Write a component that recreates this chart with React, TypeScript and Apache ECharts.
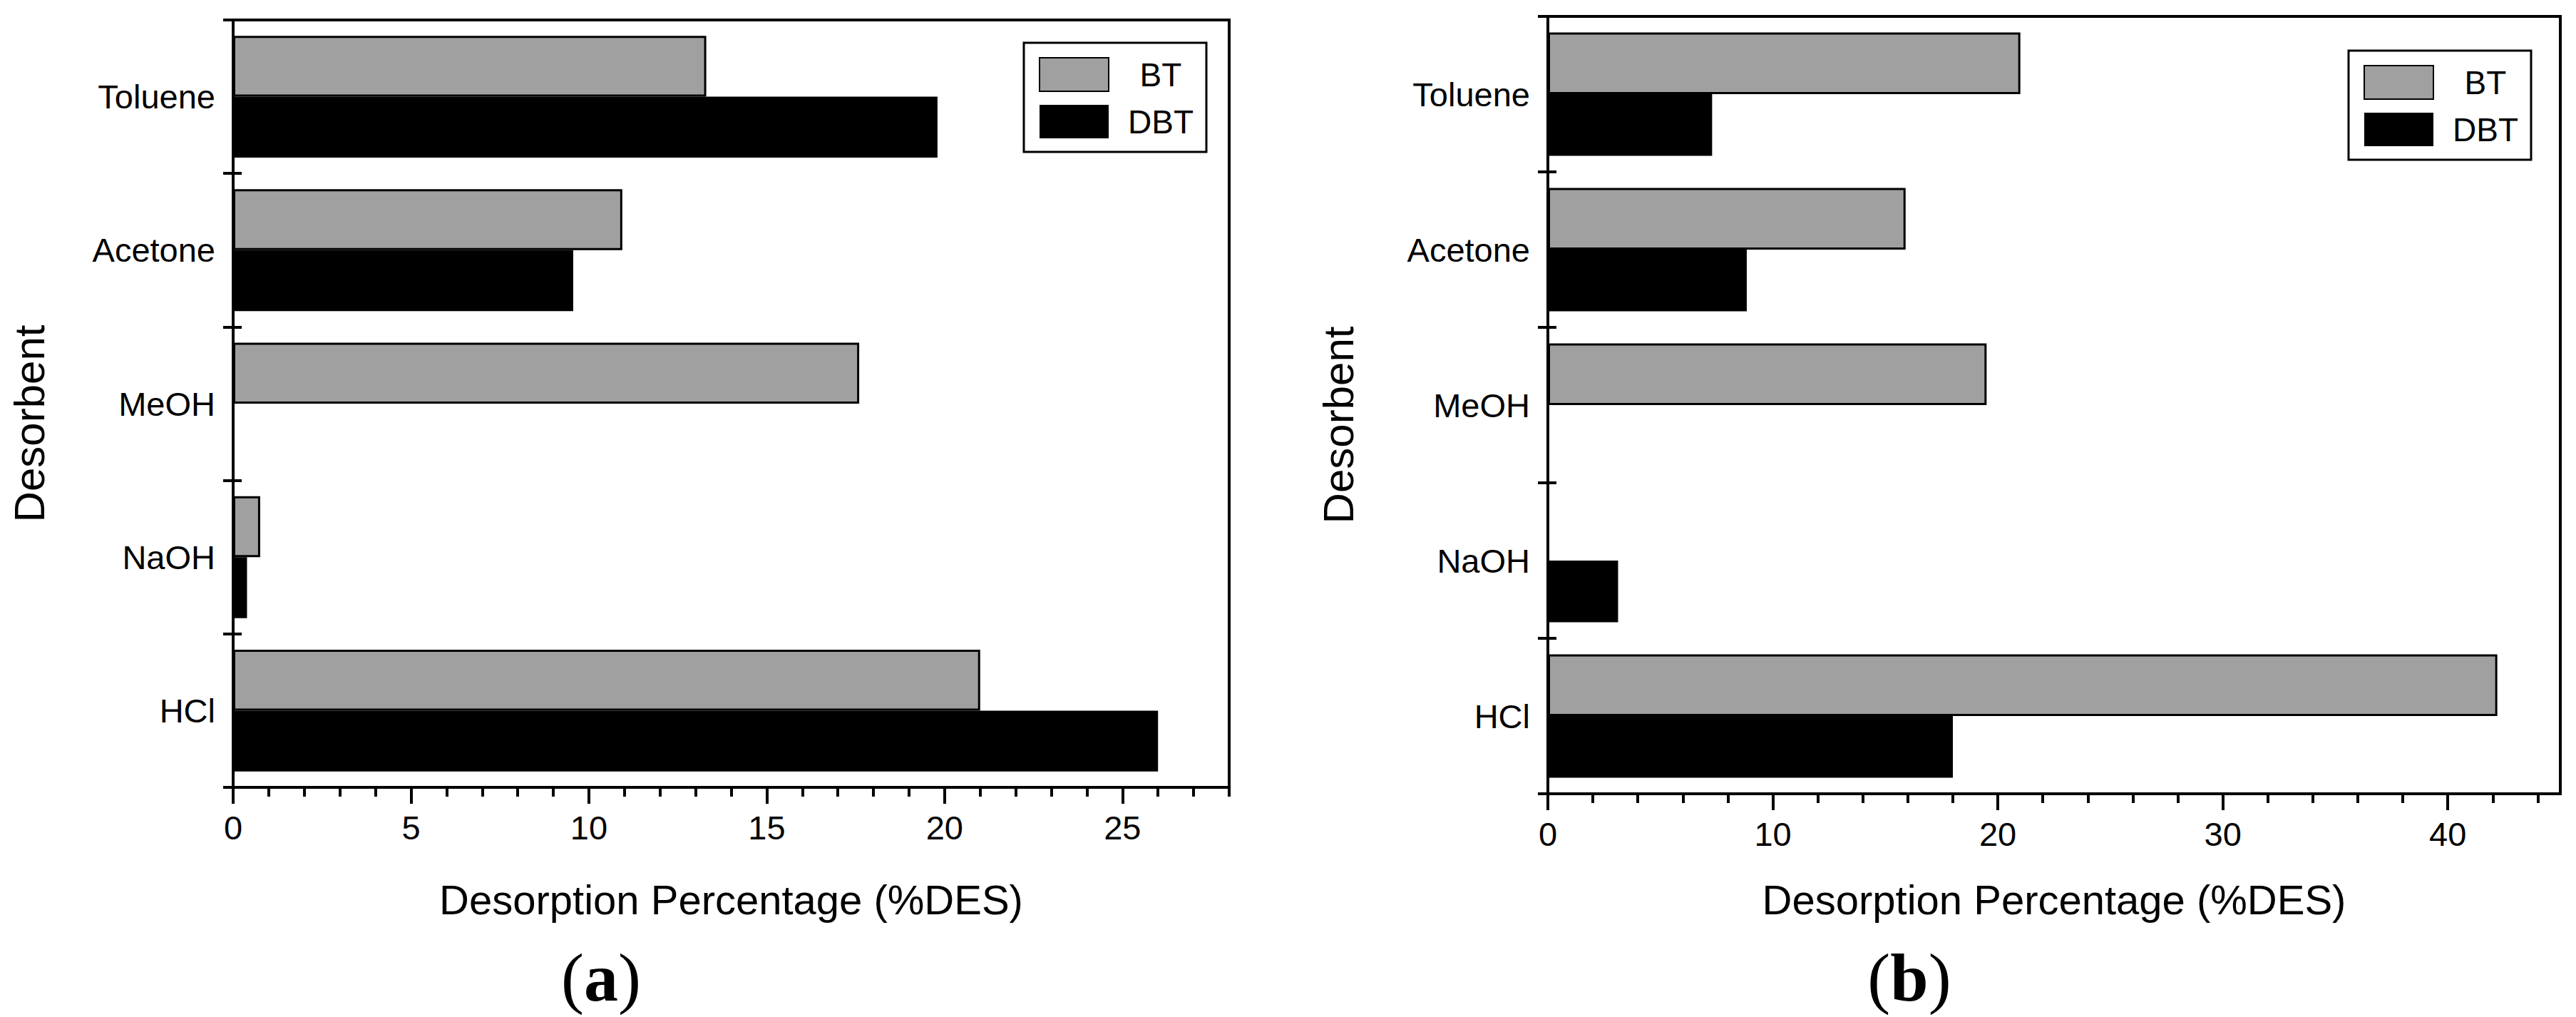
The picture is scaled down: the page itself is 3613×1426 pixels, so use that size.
import React, { useEffect, useRef } from "react";
import * as echarts from "echarts";

const categories = ["HCl", "NaOH", "MeOH", "Acetone", "Toluene"];
const seriesNames = ["BT", "DBT"];
const aBT = [21.0, 0.76, 17.6, 10.94, 13.3];
const aDBT = [26.0, 0.39, 0, 9.56, 19.8];
const bBT = [42.2, 0, 19.5, 15.9, 21.0];
const bDBT = [18.0, 3.12, 0, 8.84, 7.3];
const aMajorTicks = [0, 5, 10, 15, 20, 25];
const aMinorTicks = [1, 2, 3, 4, 6, 7, 8, 9, 11, 12, 13, 14, 16, 17, 18, 19, 21, 22, 23, 24, 26, 27, 28];
const bMajorTicks = [0, 10, 20, 30, 40];
const bMinorTicks = [2, 4, 6, 8, 12, 14, 16, 18, 22, 24, 26, 28, 32, 34, 36, 38, 42, 44];
const aMax = 28;
const bMax = 45;
const xTitle = "Desorption Percentage (%DES)";
const yTitle = "Desorbent";
const captions = ["a", "b"];

const SANS = "'Liberation Sans', Arial, sans-serif";
const SERIF = "'Liberation Serif', 'Times New Roman', serif";
const LW = 4;

function buildOption() {
  const grids = [
    { left: 327, top: 28, width: 1397, height: 1076 },
    { left: 2171, top: 23, width: 1420, height: 1090 },
  ];
  const panels = [
    { bt: aBT, dbt: aDBT, major: aMajorTicks, minor: aMinorTicks, max: aMax, nameGap: 128, yNameGap: 256, legend: { left: 1436, top: 60 } },
    { bt: bBT, dbt: bDBT, major: bMajorTicks, minor: bMinorTicks, max: bMax, nameGap: 119, yNameGap: 264, legend: { left: 3294, top: 71 } },
  ];
  const xAxis: any[] = [];
  const yAxis: any[] = [];
  const series: any[] = [];
  const legend: any[] = [];
  panels.forEach((p, i) => {
    xAxis.push({
      type: "value",
      gridIndex: i,
      position: "bottom",
      min: 0,
      max: p.max,
      splitLine: { show: false },
      axisLine: { show: true, lineStyle: { color: "#000", width: LW } },
      axisTick: { show: true, length: 23, lineStyle: { color: "#000", width: LW }, customValues: p.major },
      axisLabel: { show: true, customValues: p.major, color: "#000", fontSize: 47, fontFamily: SANS, margin: 33 },
      name: xTitle,
      nameLocation: "middle",
      nameGap: p.nameGap,
      nameTextStyle: { color: "#000", fontSize: 58, fontFamily: SANS },
    });
    xAxis.push({
      type: "value",
      gridIndex: i,
      position: "bottom",
      offset: 0,
      min: 0,
      max: p.max,
      splitLine: { show: false },
      axisLine: { show: false },
      axisTick: { show: true, length: 13, lineStyle: { color: "#000", width: LW }, customValues: p.minor },
      axisLabel: { show: false, customValues: p.minor },
    });
    yAxis.push({
      type: "category",
      gridIndex: i,
      position: "left",
      data: categories,
      axisLine: { show: true, lineStyle: { color: "#000", width: LW } },
      axisTick: { show: true, length: 14, lineStyle: { color: "#000", width: LW } },
      axisLabel: { color: "#000", fontSize: 47, fontFamily: SANS, margin: 25 },
      splitLine: { show: false },
      name: yTitle,
      nameLocation: "middle",
      nameRotate: 90,
      nameGap: p.yNameGap,
      nameTextStyle: { color: "#000", fontSize: 60, fontFamily: SANS, padding: [0, 56, 0, 0] },
    });
    yAxis.push({
      type: "category",
      gridIndex: i,
      position: "left",
      offset: 0,
      data: categories,
      axisLine: { show: false },
      axisTick: { show: true, inside: true, length: 12, lineStyle: { color: "#000", width: LW } },
      axisLabel: { show: false },
      splitLine: { show: false },
    });
    series.push({
      type: "bar",
      name: seriesNames[0],
      xAxisIndex: i * 2,
      yAxisIndex: i * 2,
      data: p.bt,
      barWidth: "39.7%",
      barGap: "0%",
      itemStyle: { color: "#a0a0a0", borderColor: "#000", borderWidth: 3 },
    });
    series.push({
      type: "bar",
      name: seriesNames[1],
      xAxisIndex: i * 2,
      yAxisIndex: i * 2,
      data: p.dbt,
      barWidth: "39.7%",
      barGap: "0%",
      itemStyle: { color: "#000", borderWidth: 0 },
    });
    legend.push({
      data: seriesNames,
      orient: "vertical",
      left: p.legend.left,
      top: p.legend.top,
      icon: "rect",
      itemWidth: 97,
      itemHeight: 47,
      itemGap: 18,
      padding: [20, 18, 19, 21],
      backgroundColor: "#fff",
      borderColor: "#000",
      borderWidth: 3,
      selectedMode: false,
      formatter: "{c|{name}}",
      textStyle: {
        color: "#000",
        fontSize: 46,
        fontFamily: SANS,
        rich: { c: { width: 136, align: "center", fontSize: 46, fontFamily: SANS, color: "#000" } },
      },
    });
  });

  const captionX = [843, 2678];
  const graphic = captions.map((c, i) => ({
    type: "text",
    x: captionX[i],
    y: 1370,
    style: {
      text: "{p|(}{b|" + c + "}{p|)}",
      align: "center",
      verticalAlign: "middle",
      rich: {
        p: { fontSize: 96, lineHeight: 96, fontFamily: SERIF, fill: "#000", fontWeight: "normal" },
        b: { fontSize: 96, lineHeight: 96, fontFamily: SERIF, fill: "#000", fontWeight: "bold" },
      },
    },
  }));

  return {
    animation: false,
    backgroundColor: "#fff",
    grid: grids.map((g) => ({ ...g, show: true, borderColor: "#000", borderWidth: LW, backgroundColor: "transparent" })),
    xAxis,
    yAxis,
    legend,
    series,
    graphic,
  };
}

export default function App() {
  const ref = useRef<HTMLDivElement>(null);
  useEffect(() => {
    document.body.style.margin = "0";
    if (!ref.current) return;
    const chart = echarts.init(ref.current, undefined, { renderer: "svg" });
    chart.setOption(buildOption() as any);
    return () => chart.dispose();
  }, []);
  return <div ref={ref} style={{ width: 3613, height: 1426 }} />;
}
